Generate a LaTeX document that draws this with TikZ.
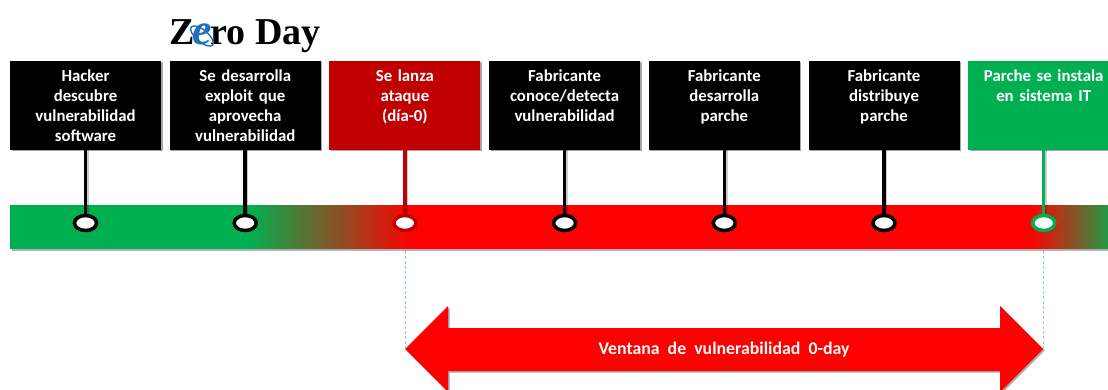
\documentclass[tikz,border=0pt]{standalone}
\usepackage{fontspec}
\setmainfont{Carlito}
\newfontfamily\logofont{Liberation Serif}
\usetikzlibrary{positioning}
\usetikzlibrary{shadows}
\usetikzlibrary{shapes.geometric}
\definecolor{verde}{HTML}{00B050}
\definecolor{rojo}{HTML}{FF0000}
\definecolor{granate}{HTML}{C00000}
\definecolor{azulie}{HTML}{1F6FC0}
\definecolor{celeste}{HTML}{9DC3E6}
\tikzset{
  sombra/.style={drop shadow={shadow xshift=1.5pt,shadow yshift=-1.5pt,opacity=.35,fill=black}},
  caja/.style={rectangle,fill=#1,text=white,minimum width=151pt,minimum height=89pt,
    text width=145pt,inner sep=0pt,align=center,font=\fontsize{16.8}{20}\selectfont\bfseries,sombra},
  hito/.style={ellipse,draw=#1,fill=white,line width=3.5pt,minimum width=22pt,minimum height=15pt,inner sep=0pt,
    drop shadow={shadow xshift=1.5pt,shadow yshift=-1.5pt,opacity=.4,fill=black}},
  palo/.style={draw=#1,line width=3.5pt,
    preaction={draw=black,opacity=.2,line width=3.5pt,transform canvas={xshift=1.5pt}}},
  guia/.style={draw=celeste,densely dashed,line width=.8pt}
}
\begin{document}
\begin{tikzpicture}[x=1pt,y=-1pt]
      \useasboundingbox (0,0) rectangle (1108,390);
      \clip (0,0) rectangle (1108,390);
      % logo
      \node (logo) at (245,36) {\logofont\bfseries\fontsize{38}{38}\selectfont Z\kern-2pt\textcolor{azulie}{\fontsize{44}{44}\selectfont\itshape e}\kern-2pt ro Day};
      \draw[azulie,line width=1.4pt,rotate around={-40:(202,36)}] (202,36) ellipse [x radius=14pt,y radius=6pt];
      % cajas
      \node[caja=black]   (B0) at (85.5,105.5) {Hacker\\descubre\\vulnerabilidad\\software};
      \node[caja=black]   (B1) [right=8.3pt of B0] {Se desarrolla\\exploit que\\aprovecha\\vulnerabilidad};
      \node[caja=granate] (B2) [right=8.3pt of B1] {Se lanza\\ataque\\(día-0)\\~};
      \node[caja=black]   (B3) [right=8.3pt of B2] {Fabricante\\conoce/detecta\\vulnerabilidad\\~};
      \node[caja=black]   (B4) [right=8.3pt of B3] {Fabricante\\desarrolla\\parche\\~};
      \node[caja=black]   (B5) [right=8.3pt of B4] {Fabricante\\distribuye\\parche\\~};
      \node[caja=verde]   (B6) [right=8.3pt of B5] {Parche se instala\\en sistema IT\\~\\~};
      % barra
      \fill[black,opacity=.3] (11.5,207) rectangle (1120,250.5);
      \fill[verde] (10,205) rectangle (248,249);
      \foreach \i in {0,2,...,166} {
        \pgfmathsetmacro\p{\i/166*100}
        \fill[rojo!\p!verde] (247+\i,205) rectangle (250+\i,249);
      }
      \fill[rojo] (413,205) rectangle (1031,249);
      \foreach \i in {0,2,...,90} {
        \pgfmathsetmacro\p{\i/90*100}
        \fill[verde!\p!rojo] (1030+\i,205) rectangle (1033+\i,249);
      }
      % hitos
      \coordinate (eje) at (0,223);
      \path [palo=black]   (B0) -- (B0 |- eje);
      \path [palo=black]   (B1) -- (B1 |- eje);
      \path [palo=granate] (B2) -- (B2 |- eje);
      \path [palo=black]   (B3) -- (B3 |- eje);
      \path [palo=black]   (B4) -- (B4 |- eje);
      \path [palo=black]   (B5) -- (B5 |- eje);
      \path [palo=verde]   (B6) -- (B6 |- eje);
      \node[hito=black]   (D0) at (B0 |- eje) {};
      \node[hito=black]   (D1) at (B1 |- eje) {};
      \node[hito=granate] (D2) at (B2 |- eje) {};
      \node[hito=black]   (D3) at (B3 |- eje) {};
      \node[hito=black]   (D4) at (B4 |- eje) {};
      \node[hito=black]   (D5) at (B5 |- eje) {};
      \node[hito=verde]   (D6) at (B6 |- eje) {};
      % ventana
      \coordinate (T0) at (405,349);
      \coordinate (T1) at (1043,349);
      \coordinate (suelo) at (0,250.5);
      \path [guia] (T0 |- suelo) -- (T0);
      \path [guia] (T1 |- suelo) -- (T1);
      \fill[rojo,sombra] (T0) -- (448,306) -- (448,328) -- (1000,328) -- (1000,306) -- (T1)
        -- (1000,392) -- (1000,371) -- (448,371) -- (448,392) -- cycle;
      \node[text=white,font=\fontsize{17.8}{20}\selectfont\bfseries] (V) at (724,350) {Ventana\ \ de\ \ vulnerabilidad\ \ 0-day};
      \end{tikzpicture}
\end{document}
